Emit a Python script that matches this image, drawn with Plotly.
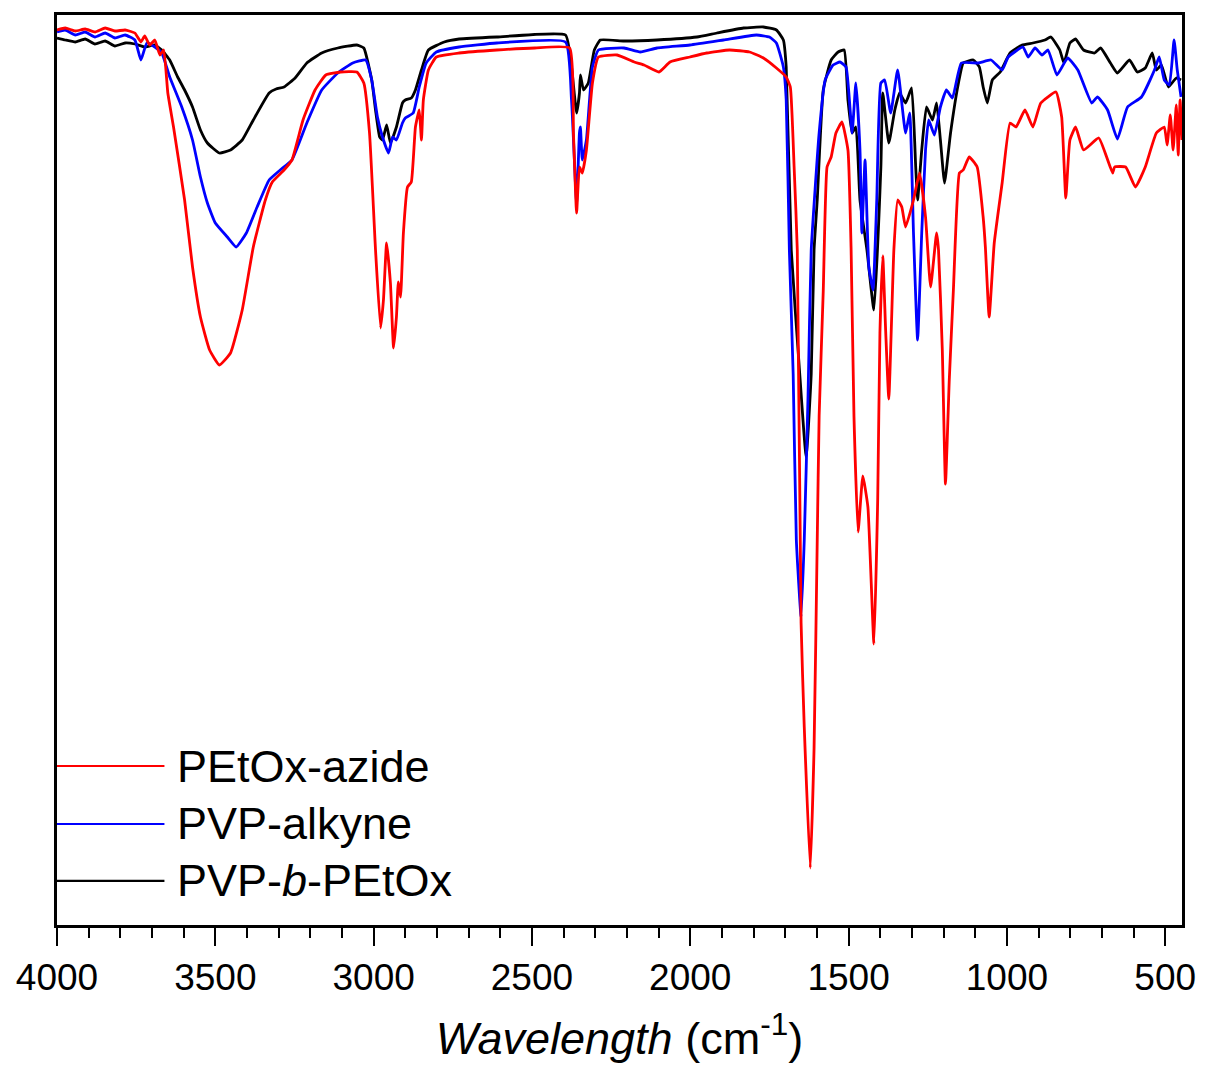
import plotly.graph_objects as go

# ---- data (wavenumber cm-1, transmittance a.u.) ----
red_wn = [4000, 3974, 3942, 3911, 3880, 3848, 3817, 3785, 3754, 3735, 3723, 3707, 3691, 3675, 3663, 3650,
          3632, 3597, 3572, 3547, 3518, 3487, 3452, 3415, 3380, 3342, 3320, 3283, 3258, 3223, 3185, 3151,
          3104, 3053, 3031, 3013, 2994, 2978, 2969, 2959, 2947, 2937, 2928, 2922, 2915, 2906, 2893, 2881,
          2868, 2856, 2849, 2843, 2827, 2802, 2730, 2611, 2491, 2381, 2369, 2359, 2350, 2341, 2328, 2309,
          2290, 2231, 2177, 2146, 2099, 2064, 2001, 1948, 1876, 1813, 1769, 1728, 1697, 1684, 1672, 1662,
          1650, 1640, 1621, 1609, 1599, 1593, 1580, 1568, 1555, 1540, 1521, 1502, 1492, 1483, 1470, 1455,
          1439, 1420, 1408, 1401, 1392, 1383, 1373, 1357, 1345, 1332, 1320, 1295, 1276, 1257, 1241, 1222,
          1216, 1204, 1194, 1182, 1169, 1150, 1138, 1119, 1094, 1075, 1068, 1056, 1040, 1015, 990, 971,
          943, 918, 893, 845, 827, 814, 801, 783, 758, 710, 685, 666, 660, 625, 594, 563, 528, 503, 494,
          484, 475, 465, 459, 453, 447]
red_t = [89.5, 89.7, 89.4, 89.6, 89.3, 89.7, 89.4, 89.5, 89.2, 88.3, 88.9, 88.0, 88.5, 87.0, 87.5, 83.2,
         79.8, 72.5, 65.8, 60.8, 57.5, 56.0, 57.2, 61.5, 67.8, 72.5, 74.3, 75.5, 76.5, 80.5, 83.5, 85.0,
         85.3, 85.3, 84.2, 79.2, 67.5, 59.7, 62.5, 68.2, 64.2, 57.7, 60.8, 64.3, 62.8, 69.2, 73.8, 74.3,
         79.8, 81.5, 78.5, 82.5, 85.5, 86.8, 87.2, 87.5, 87.7, 87.7, 79.2, 71.2, 75.8, 75.2, 77.5, 84.2,
         86.8, 87.0, 86.3, 86.0, 85.3, 86.3, 86.8, 87.2, 87.5, 87.3, 86.7, 85.7, 84.8, 83.8, 75.8, 67.5,
         30.2, 19.8, 5.7, 17.7, 38.5, 50.9, 63.4, 75.8, 76.8, 79.2, 80.3, 77.5, 67.5, 50.9, 39.3, 44.9,
         41.8, 28.1, 42.6, 59.2, 66.9, 59.5, 52.6, 67.5, 72.5, 71.8, 69.8, 72.5, 75.2, 70.8, 63.8, 69.2,
         67.5, 57.5, 44.1, 54.5, 63.5, 75.2, 75.5, 76.8, 75.8, 70.8, 67.8, 60.8, 68.2, 74.2, 80.2, 79.8,
         81.5, 79.8, 82.2, 83.3, 80.8, 72.7, 78.5, 79.8, 77.5, 78.7, 76.8, 75.2, 75.8, 75.8, 73.8, 75.8,
         79.2, 79.8, 78.0, 81.0, 77.5, 82.0, 77.0, 82.5, 78.5]

blue_wn = [4000, 3974, 3942, 3911, 3880, 3848, 3817, 3785, 3754, 3735, 3716, 3691, 3669, 3644, 3606, 3572,
           3547, 3525, 3500, 3462, 3434, 3402, 3368, 3330, 3295, 3258, 3211, 3164, 3113, 3066, 3025, 3006,
           2988, 2972, 2953, 2940, 2928, 2909, 2900, 2875, 2856, 2834, 2802, 2730, 2611, 2394, 2375, 2359,
           2350, 2347, 2341, 2328, 2309, 2290, 2209, 2158, 2105, 2001, 1895, 1791, 1750, 1728, 1706, 1697,
           1687, 1675, 1665, 1650, 1640, 1628, 1618, 1593, 1574, 1549, 1527, 1508, 1489, 1477, 1464, 1458,
           1448, 1436, 1423, 1411, 1398, 1386, 1367, 1345, 1320, 1307, 1295, 1282, 1269, 1257, 1247, 1229,
           1210, 1191, 1172, 1144, 1090, 1050, 1015, 996, 949, 933, 911, 889, 870, 842, 808, 776, 732, 714,
           682, 651, 619, 575, 534, 519, 503, 487, 472, 462, 450]
blue_t = [89.3, 89.5, 89.0, 89.3, 88.8, 89.2, 88.7, 89.0, 88.5, 86.5, 88.2, 87.8, 87.2, 84.8, 81.8, 78.5,
          74.8, 72.2, 70.2, 68.8, 67.8, 69.2, 71.8, 74.5, 75.5, 76.5, 80.2, 83.5, 85.2, 86.2, 86.5, 84.5,
          80.8, 78.8, 77.2, 78.8, 78.5, 80.2, 80.7, 81.2, 83.8, 86.2, 87.3, 87.8, 88.2, 88.3, 82.5, 72.2,
          79.2, 79.8, 76.5, 78.5, 85.8, 87.5, 87.7, 87.3, 87.7, 88.0, 88.5, 89.0, 88.8, 88.2, 85.8, 82.5,
          67.5, 55.1, 38.5, 30.8, 38.5, 53.0, 67.5, 79.2, 84.5, 86.0, 86.3, 85.8, 79.2, 84.2, 77.5, 69.2,
          76.5, 65.8, 63.5, 72.5, 84.2, 84.5, 81.2, 85.5, 79.2, 81.2, 69.2, 58.5, 69.2, 77.5, 80.5, 79.0,
          81.8, 83.5, 82.7, 86.2, 86.2, 86.5, 85.5, 86.8, 87.8, 86.8, 87.7, 87.0, 87.5, 85.0, 86.7, 85.5, 82.2, 82.8,
          81.5, 78.6, 81.8, 82.8, 85.5, 86.8, 84.5, 84.0, 88.5, 85.5, 82.8]

black_wn = [4000, 3974, 3942, 3911, 3880, 3848, 3817, 3785, 3754, 3723, 3691, 3669, 3644, 3619, 3597, 3572,
            3547, 3525, 3487, 3452, 3415, 3380, 3330, 3308, 3283, 3248, 3211, 3164, 3113, 3053, 3031, 3006,
            2994, 2981, 2972, 2959, 2947, 2928, 2909, 2900, 2881, 2868, 2849, 2827, 2777, 2730, 2611, 2394,
            2375, 2359, 2350, 2347, 2337, 2322, 2303, 2284, 2209, 2105, 1979, 1916, 1832, 1769, 1728, 1706,
            1697, 1681, 1656, 1634, 1618, 1609, 1599, 1580, 1555, 1533, 1514, 1502, 1489, 1477, 1464, 1442,
            1420, 1398, 1392, 1373, 1354, 1339, 1320, 1301, 1288, 1282, 1269, 1254, 1235, 1222, 1210, 1197,
            1178, 1153, 1138, 1106, 1087, 1075, 1062, 1046, 1021, 990, 952, 918, 880, 861, 833, 820, 801,
            783, 758, 723, 704, 673, 651, 613, 588, 563, 541, 528, 512, 490, 465, 450]
black_t = [88.7, 88.5, 88.3, 88.6, 88.1, 88.4, 87.9, 88.2, 88.1, 87.8, 88.0, 87.5, 86.5, 84.8, 83.5, 81.8,
           79.5, 78.2, 77.2, 77.5, 78.5, 80.5, 83.2, 83.6, 83.8, 84.7, 86.2, 87.2, 87.7, 88.0, 87.7, 84.5,
           81.5, 78.8, 78.5, 80.0, 78.2, 79.8, 82.2, 82.5, 82.7, 83.5, 85.5, 87.5, 88.3, 88.6, 88.8, 89.0,
           85.8, 81.2, 83.2, 85.0, 83.5, 84.2, 87.5, 88.5, 88.4, 88.5, 88.8, 89.2, 89.7, 89.8, 89.5, 88.5,
           85.8, 67.5, 55.9, 46.8, 55.1, 67.5, 72.5, 83.5, 86.5, 87.3, 87.5, 82.5, 79.2, 79.8, 72.5, 67.5,
           61.5, 75.8, 83.2, 78.2, 81.5, 83.2, 82.2, 83.7, 75.8, 72.5, 77.5, 81.8, 80.5, 82.2, 78.5, 74.2,
           79.2, 84.2, 86.2, 86.5, 85.8, 83.8, 82.2, 84.5, 85.3, 87.2, 88.0, 88.2, 88.5, 88.8, 87.5, 86.2, 88.2,
           88.6, 87.5, 87.2, 87.7, 86.2, 85.2, 86.5, 85.3, 85.7, 87.2, 85.5, 86.0, 83.8, 84.7, 84.5]

series_names = ["PEtOx-azide", "PVP-alkyne", "PVP-<i>b</i>-PEtOx"]
series_colors = ["#ff0000", "#0000ff", "#000000"]
x_ticks = [4000, 3500, 3000, 2500, 2000, 1500, 1000, 500]

FONT = "Liberation Sans, Arial, Helvetica, sans-serif"

fig = go.Figure()
for wn, t, name, col in [(black_wn, black_t, series_names[2], series_colors[2]),
                         (blue_wn, blue_t, series_names[1], series_colors[1]),
                         (red_wn, red_t, series_names[0], series_colors[0])]:
    fig.add_trace(go.Scatter(x=wn, y=t, mode="lines", name=name,
                             line=dict(color=col, width=2.8, shape="spline", smoothing=0.4),
                             showlegend=False))

# manual legend (long line samples as in the reference)
leg_y = [0.1747, 0.111, 0.0484]
for name, col, yy in zip(series_names, series_colors, leg_y):
    fig.add_shape(type="line", xref="paper", yref="paper", x0=0.0, x1=0.0955, y0=yy, y1=yy,
                  line=dict(color=col, width=2.2))
    fig.add_annotation(xref="paper", yref="paper", x=0.105, y=yy, text=name, showarrow=False,
                       xanchor="left", yanchor="middle", font=dict(family=FONT, size=45, color="black"))

fig.update_xaxes(range=[4000, 447], tickvals=x_ticks, ticks="outside", ticklen=18, tickwidth=2,
                 tickcolor="black", showline=True, linewidth=2.5, linecolor="black", mirror=True,
                 showgrid=False, zeroline=False,
                 minor=dict(dtick=100, ticks="outside", ticklen=10, tickwidth=2, tickcolor="black", showgrid=False),
                 tickfont=dict(family=FONT, size=37, color="black"),
                 title=dict(text="<i>Wavelength</i> (cm<sup>-1</sup>)", font=dict(family=FONT, size=45, color="black"),
                            standoff=26))
fig.update_yaxes(range=[0, 91], showticklabels=False, ticks="", showline=True, linewidth=2.5,
                 linecolor="black", mirror=True, showgrid=False, zeroline=False)

fig.update_layout(width=1208, height=1077, margin=dict(l=57, r=20, t=15, b=152),
                  plot_bgcolor="white", paper_bgcolor="white", showlegend=False)

fig.write_html("out.html")
